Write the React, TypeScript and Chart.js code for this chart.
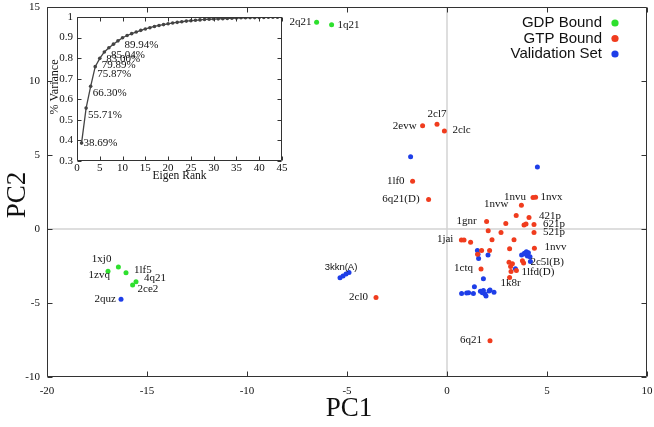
import React, { useEffect, useRef } from 'react';
import { Chart, registerables } from 'chart.js';

Chart.register(...registerables);

// ---------- Main scatter data ----------
const gdpNames = ['2q21', '1q21', '1zvq', '1xj0', '1lf5', '4q21', '2ce2'];
const gdpX = [-6.52, -5.77, -16.95, -16.43, -16.05, -15.55, -15.72];
const gdpY = [13.97, 13.8, -2.86, -2.57, -2.95, -3.56, -3.78];

const gtpNames = [
  '2evw', '2cl7', '2clc', '1lf0', '6q21(D)', '1nvu', '1nvx', '1nvw', '', '421p',
  '', '', '621p', '521p', '', '1gnr', '', '', '', '',
  '1jai', '', '', '1nvv', '', '', '', '', '', '',
  '', '', '1lfd(D)', '', '', '1k8r', '1ctq', '6q21', '2cl0',
];
const gtpX = [
  -1.22, -0.5, -0.13, -1.72, -0.92, 4.3, 4.43, 3.72, 3.46, 4.1,
  3.85, 3.95, 4.35, 4.35, 2.94, 1.98, 2.06, 2.7, 3.35, 2.25,
  0.72, 0.85, 1.18, 4.37, 3.13, 1.73, 2.13, 1.53, 3.1, 3.27,
  3.18, 3.2, 3.47, 3.77, 3.83, 3.13, 1.7, 2.15, -3.55,
];
const gtpY = [
  6.98, 7.07, 6.62, 3.22, 2.0, 2.12, 2.14, 1.6, 0.91, 0.78,
  0.27, 0.33, 0.3, -0.24, 0.37, 0.5, -0.12, -0.23, -0.72, -0.73,
  -0.74, -0.74, -0.9, -1.3, -1.33, -1.46, -1.46, -1.71, -2.25, -2.34,
  -2.54, -2.88, -2.81, -2.14, -2.3, -3.27, -2.7, -7.55, -4.62,
];

const valNames = [
  '', '', '', '', '3kkn(A)', '', '2quz', '', '', '',
  '', '', '', '', '2c5l(B)', '', '', '', '', '',
  '', '', '', '', '', '', '', '', '', '',
  '', '',
];
const valX = [
  -1.82, 4.52, -5.35, -5.2, -5.05, -4.9, -16.3, 1.52, 1.55, 1.58,
  2.05, 3.73, 3.87, 3.97, 4.02, 4.15, 4.17, 3.95, 4.07, 3.42,
  1.82, 1.37, 0.73, 0.98, 1.08, 1.32, 1.67, 1.82, 1.9, 1.95,
  2.1, 2.15, 2.35, 1.77,
];
const valY = [
  4.89, 4.19, -3.3, -3.17, -3.04, -2.94, -4.75, -1.46, -1.71, -2.0,
  -1.76, -1.76, -1.64, -1.53, -1.82, -1.87, -2.2, -1.7, -1.6, -2.68,
  -3.36, -3.9, -4.35, -4.32, -4.3, -4.35, -4.21, -4.15, -4.39, -4.53,
  -4.19, -4.12, -4.28, -4.3,
];

const seriesNames = ['GDP Bound', 'GTP Bound', 'Validation Set'];
const seriesColors = ['#2ee02e', '#f03c1e', '#1e3ee8'];

const mainXTicks = [-20, -15, -10, -5, 0, 5, 10];
const mainYTicks = [-10, -5, 0, 5, 10, 15];

// ---------- Inset (cumulative variance) data ----------
const eigenRank = [
  1, 2, 3, 4, 5, 6, 7, 8, 9, 10, 11, 12, 13, 14, 15, 16, 17, 18, 19, 20, 21, 22, 23,
  24, 25, 26, 27, 28, 29, 30, 31, 32, 33, 34, 35, 36, 37, 38, 39, 40, 41, 42, 43, 44, 45,
];
const cumVariance = [
  0.3869, 0.5571, 0.663, 0.7587, 0.7989, 0.83, 0.8504, 0.868, 0.884, 0.8994,
  0.91, 0.919, 0.927, 0.935, 0.942, 0.948, 0.954, 0.959, 0.963, 0.967,
  0.971, 0.974, 0.977, 0.98, 0.982, 0.984, 0.986, 0.988, 0.989, 0.99,
  0.991, 0.992, 0.993, 0.994, 0.995, 0.996, 0.996, 0.997, 0.997, 0.998,
  0.998, 0.999, 0.999, 0.999, 1.0,
];
const labelledRanks = [1, 2, 3, 4, 5, 6, 7, 10];
const insetXTicks = [0, 5, 10, 15, 20, 25, 30, 35, 40, 45];
const insetYTicks = [0.3, 0.4, 0.5, 0.6, 0.7, 0.8, 0.9, 1.0];

// ---------- Styles ----------
const SERIF = '"Liberation Serif", "DejaVu Serif", serif';
const SANS = '"Liberation Sans", Arial, sans-serif';

type LabelStyle = { dx: number; dy: number; align: CanvasTextAlign; sans?: boolean };
const LABEL_STYLE: Record<string, LabelStyle> = {
  '2q21': { dx: -5, dy: 0, align: 'right' },
  '1q21': { dx: 6, dy: 0, align: 'left' },
  '1zvq': { dx: 2, dy: 4, align: 'right' },
  '1xj0': { dx: -7, dy: -8, align: 'right' },
  '1lf5': { dx: 8, dy: -3, align: 'left' },
  '4q21': { dx: 8, dy: -4, align: 'left' },
  '2ce2': { dx: 5, dy: 4, align: 'left' },
  '2quz': { dx: -5, dy: 0, align: 'right' },
  '2evw': { dx: -6, dy: 0, align: 'right' },
  '2cl7': { dx: 0, dy: -10, align: 'center' },
  '2clc': { dx: 8, dy: -1, align: 'left' },
  '1lf0': { dx: -8, dy: 0, align: 'right' },
  '6q21(D)': { dx: -9, dy: 0, align: 'right' },
  '1nvu': { dx: -7, dy: -1, align: 'right' },
  '1nvx': { dx: 5, dy: 0, align: 'left' },
  '1nvw': { dx: -13, dy: -1, align: 'right' },
  '421p': { dx: 10, dy: -1, align: 'left' },
  '621p': { dx: 9, dy: 0, align: 'left' },
  '521p': { dx: 9, dy: 0, align: 'left' },
  '1gnr': { dx: -10, dy: 0, align: 'right' },
  '1jai': { dx: -8, dy: -1, align: 'right' },
  '1nvv': { dx: 10, dy: -1, align: 'left' },
  '2c5l(B)': { dx: 3, dy: 6, align: 'left' },
  '1lfd(D)': { dx: 5, dy: 2, align: 'left' },
  '1k8r': { dx: 1, dy: 6, align: 'center' },
  '1ctq': { dx: -8, dy: -1, align: 'right' },
  '6q21': { dx: -8, dy: -1, align: 'right' },
  '2cl0': { dx: -8, dy: 0, align: 'right' },
  '3kkn(A)': { dx: -5, dy: -7, align: 'center', sans: true },
};

const allNames = [gdpNames, gtpNames, valNames];

function drawFrameTicks(
  chart: any,
  xTicks: number[],
  yTicks: number[],
  len: number,
  color: string
) {
  const { ctx, chartArea: a, scales } = chart;
  const l = Math.round(a.left) + 0.5;
  const r = Math.round(a.right) - 0.5;
  const t = Math.round(a.top) + 0.5;
  const b = Math.round(a.bottom) - 0.5;
  ctx.save();
  ctx.strokeStyle = color;
  ctx.lineWidth = 1;
  ctx.beginPath();
  ctx.rect(l, t, r - l, b - t);
  for (const v of xTicks) {
    const x = Math.round(scales.x.getPixelForValue(v)) + 0.5;
    ctx.moveTo(x, b);
    ctx.lineTo(x, b - len);
    ctx.moveTo(x, t);
    ctx.lineTo(x, t + len);
  }
  for (const v of yTicks) {
    const y = Math.round(scales.y.getPixelForValue(v)) + 0.5;
    ctx.moveTo(l, y);
    ctx.lineTo(l + len, y);
    ctx.moveTo(r, y);
    ctx.lineTo(r - len, y);
  }
  ctx.stroke();
  ctx.restore();
}

const mainPlugin = {
  id: 'mainDecor',
  beforeDatasetsDraw(chart: any) {
    const { ctx, chartArea: a, scales } = chart;
    ctx.save();
    ctx.strokeStyle = '#d4d4d4';
    ctx.lineWidth = 1.5;
    const x0 = scales.x.getPixelForValue(0);
    const y0 = scales.y.getPixelForValue(0);
    ctx.beginPath();
    ctx.moveTo(x0, a.top);
    ctx.lineTo(x0, a.bottom);
    ctx.moveTo(a.left, y0);
    ctx.lineTo(a.right, y0);
    ctx.stroke();
    ctx.restore();
  },
  afterDraw(chart: any) {
    const { ctx, chartArea: a } = chart;
    drawFrameTicks(chart, mainXTicks, mainYTicks, 5, '#333');

    // point labels
    ctx.save();
    ctx.fillStyle = '#111';
    ctx.textBaseline = 'middle';
    allNames.forEach((names, di) => {
      const meta = chart.getDatasetMeta(di);
      names.forEach((name, i) => {
        if (!name) return;
        const el = meta.data[i];
        if (!el) return;
        const st = LABEL_STYLE[name] || { dx: 5, dy: 0, align: 'left' as CanvasTextAlign };
        ctx.font = st.sans ? `9.5px ${SANS}` : `11px ${SERIF}`;
        ctx.textAlign = st.align;
        ctx.fillText(name, el.x + st.dx, el.y + st.dy);
      });
    });
    ctx.restore();

    // legend
    ctx.save();
    ctx.font = `15px ${SANS}`;
    ctx.textAlign = 'right';
    ctx.textBaseline = 'middle';
    seriesNames.forEach((n, i) => {
      const y = a.top + 16 + i * 15.5;
      ctx.fillStyle = '#111';
      ctx.fillText(n, a.right - 45, y);
      ctx.fillStyle = seriesColors[i];
      ctx.beginPath();
      ctx.arc(a.right - 32, y, 3.6, 0, Math.PI * 2);
      ctx.fill();
    });
    ctx.restore();

    // axis titles
    ctx.save();
    ctx.fillStyle = '#111';
    ctx.font = `27px ${SERIF}`;
    ctx.textAlign = 'center';
    ctx.textBaseline = 'middle';
    ctx.fillText('PC1', (a.left + a.right) / 2 + 2, 409);
    ctx.translate(18, (a.top + a.bottom) / 2 + 3);
    ctx.rotate(-Math.PI / 2);
    ctx.fillText('PC2', 0, 0);
    ctx.restore();
  },
};

const insetPlugin = {
  id: 'insetDecor',
  afterDraw(chart: any) {
    const { ctx, chartArea: a } = chart;
    drawFrameTicks(chart, insetXTicks, insetYTicks, 4, '#333');
    const meta = chart.getDatasetMeta(0);
    ctx.save();
    ctx.fillStyle = '#111';
    ctx.font = `11px ${SERIF}`;
    ctx.textAlign = 'left';
    ctx.textBaseline = 'middle';
    labelledRanks.forEach((rk, j) => {
      const i = eigenRank.indexOf(rk);
      const el = meta.data[i];
      if (!el) return;
      const txt = (cumVariance[i] * 100).toFixed(2) + '%';
      ctx.fillText(txt, el.x + 2, el.y + (j === 0 ? 0 : 7));
    });
    ctx.font = `11.5px ${SERIF}`;
    ctx.textAlign = 'center';
    ctx.fillText('Eigen Rank', (a.left + a.right) / 2, 176);
    ctx.translate(55, (a.top + a.bottom) / 2 - 2);
    ctx.rotate(-Math.PI / 2);
    ctx.font = `12px ${SERIF}`;
    ctx.fillText('% Variance', 0, 0);
    ctx.restore();
  },
};

function toPoints(xs: number[], ys: number[]) {
  return xs.map((x, i) => ({ x, y: ys[i] }));
}

function fitX(h: number) {
  return (s: any) => {
    s.height = h;
    s.paddingLeft = 0;
    s.paddingRight = 0;
    s.paddingTop = 0;
    s.paddingBottom = 0;
  };
}
function fitY(w: number) {
  return (s: any) => {
    s.width = w;
    s.paddingLeft = 0;
    s.paddingRight = 0;
    s.paddingTop = 0;
    s.paddingBottom = 0;
  };
}

export default function App() {
  const mainRef = useRef<HTMLCanvasElement>(null);
  const insetRef = useRef<HTMLCanvasElement>(null);

  useEffect(() => {
    const tickFont = { family: SERIF, size: 11 };
    const main = new Chart(mainRef.current as HTMLCanvasElement, {
      type: 'scatter',
      data: {
        datasets: [
          { label: seriesNames[0], data: toPoints(gdpX, gdpY), backgroundColor: seriesColors[0], borderWidth: 0, pointRadius: 2.5, hoverRadius: 0 },
          { label: seriesNames[1], data: toPoints(gtpX, gtpY), backgroundColor: seriesColors[1], borderWidth: 0, pointRadius: 2.5, hoverRadius: 0 },
          { label: seriesNames[2], data: toPoints(valX, valY), backgroundColor: seriesColors[2], borderWidth: 0, pointRadius: 2.5, hoverRadius: 0 },
        ],
      },
      options: {
        animation: false,
        responsive: false,
        maintainAspectRatio: false,
        events: [],
        layout: { autoPadding: false, padding: { left: 0, right: 7, top: 7, bottom: 0 } },
        plugins: { legend: { display: false }, tooltip: { enabled: false }, title: { display: false } },
        scales: {
          x: {
            type: 'linear',
            min: -20,
            max: 10,
            afterBuildTicks: (s: any) => { s.ticks = mainXTicks.map((v) => ({ value: v })); },
            afterFit: fitX(50),
            ticks: { font: tickFont, color: '#111', padding: 8, autoSkip: false, maxRotation: 0 },
            grid: { display: false, drawTicks: false },
            border: { display: false },
          },
          y: {
            type: 'linear',
            min: -10,
            max: 15,
            afterBuildTicks: (s: any) => { s.ticks = mainYTicks.map((v) => ({ value: v })); },
            afterFit: fitY(47),
            ticks: { font: tickFont, color: '#111', padding: 7, autoSkip: false },
            grid: { display: false, drawTicks: false },
            border: { display: false },
          },
        },
      } as any,
      plugins: [mainPlugin],
    });

    const inset = new Chart(insetRef.current as HTMLCanvasElement, {
      type: 'scatter',
      data: {
        datasets: [
          {
            data: toPoints(eigenRank, cumVariance),
            showLine: true,
            borderColor: '#444',
            borderWidth: 1.3,
            backgroundColor: '#444',
            pointRadius: 1.8,
            pointBorderWidth: 0,
            hoverRadius: 0,
          },
        ],
      },
      options: {
        animation: false,
        responsive: false,
        maintainAspectRatio: false,
        events: [],
        layout: { autoPadding: false, padding: { left: 0, right: 18, top: 17, bottom: 0 } },
        plugins: { legend: { display: false }, tooltip: { enabled: false } },
        scales: {
          x: {
            type: 'linear',
            min: 0,
            max: 45,
            afterBuildTicks: (s: any) => { s.ticks = insetXTicks.map((v) => ({ value: v })); },
            afterFit: fitX(39),
            ticks: { font: tickFont, color: '#111', padding: 1, autoSkip: false, maxRotation: 0 },
            grid: { display: false, drawTicks: false },
            border: { display: false },
          },
          y: {
            type: 'linear',
            min: 0.3,
            max: 1,
            afterBuildTicks: (s: any) => { s.ticks = insetYTicks.map((v) => ({ value: v })); },
            afterFit: fitY(77),
            ticks: {
              font: tickFont,
              color: '#111',
              padding: 4,
              autoSkip: false,
              callback: (v: any) => String(Number(Number(v).toFixed(1))),
            },
            grid: { display: false, drawTicks: false },
            border: { display: false },
          },
        },
      } as any,
      plugins: [insetPlugin],
    });

    return () => {
      main.destroy();
      inset.destroy();
    };
  }, []);

  return (
    <div style={{ position: 'fixed', left: 0, top: 0, width: 654, height: 427, background: '#fff' }}>
      <canvas ref={mainRef} width={654} height={427} style={{ position: 'absolute', left: 0, top: 0 }} />
      <canvas ref={insetRef} width={300} height={200} style={{ position: 'absolute', left: 0, top: 0 }} />
    </div>
  );
}
